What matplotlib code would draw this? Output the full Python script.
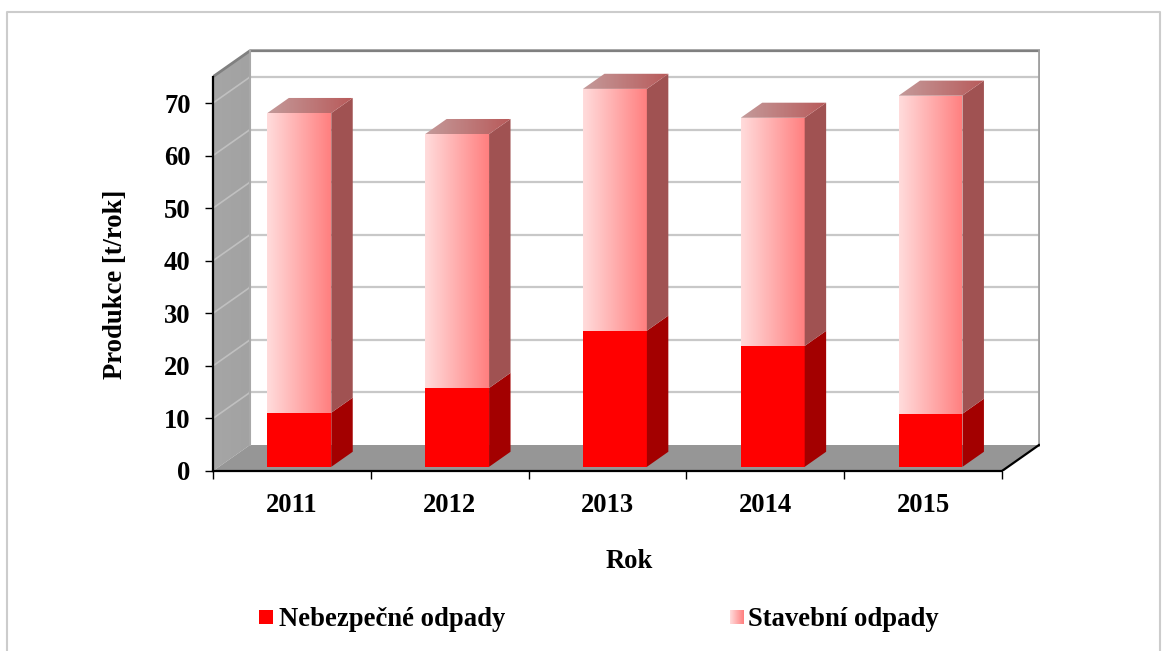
import matplotlib
matplotlib.use('Agg')
import matplotlib.pyplot as plt
import numpy as np
from matplotlib.colors import LinearSegmentedColormap
from matplotlib.patches import Polygon, Rectangle

years = ['2011', '2012', '2013', '2014', '2015']
nebezpecne = [10.3, 15.0, 25.9, 23.0, 10.1]
stavebni = [57.0, 48.3, 46.0, 43.4, 60.5]
yticks = [0, 10, 20, 30, 40, 50, 60, 70]

W, H = 1167, 651
PX_X = 157.8   # px per category
PX_Y = 5.257   # px per t/rok
DX = 37 / PX_X  # full depth of the floor in data units
DY = 26 / PX_Y
YMAX = 75
BAR_W = 0.405
BAR_SHIFT = 1.5 / PX_X
D0, D1 = 0.16, 0.74  # bar depth range

plt.rcParams['font.family'] = ['Liberation Serif', 'DejaVu Serif']
plt.rcParams['font.weight'] = 'bold'
plt.rcParams['font.size'] = 19.2

fig = plt.figure(figsize=(W / 100, H / 100), dpi=100)
# outer frame, open at the bottom
fig.add_artist(plt.Line2D([7 / W, 7 / W, 1160 / W, 1160 / W],
                          [0, 1 - 12 / H, 1 - 12 / H, 0],
                          color='#cccccc', lw=1.5))

ax = fig.add_axes([213 / W, (H - 471) / H, 827 / W, 422 / H])
ax.set_xlim(0, 827 / PX_X)
ax.set_ylim(0, 422 / PX_Y)
ax.patch.set_alpha(0)


def pt(x, y, d):
    # oblique projection: d=0 is the front, d=1 the back wall
    return (x + d * DX, y + d * DY)


def poly(points, color, z, **kw):
    ax.add_patch(Polygon(points, closed=True, facecolor=color, edgecolor='none', zorder=z, **kw))


def grad(points, c0, c1, z):
    # horizontal gradient clipped to a polygon
    cmap = LinearSegmentedColormap.from_list('g', [c0, c1])
    xs = [p[0] for p in points]
    ys = [p[1] for p in points]
    im = ax.imshow(np.linspace(0, 1, 256).reshape(1, -1), cmap=cmap, aspect='auto', zorder=z,
                   extent=(min(xs), max(xs), min(ys), max(ys)), interpolation='bilinear')
    im.set_clip_path(Polygon(points, closed=True, transform=ax.transData))


# walls and floor
grad([pt(0, 0, 0), pt(0, YMAX, 0), pt(0, YMAX, 1), pt(0, 0, 1)], '#a6a6a6', '#a2a2a2', 1)
poly([pt(0, 0, 0), pt(5, 0, 0), pt(5, 0, 1), pt(0, 0, 1)], '#969696', 1)

for v in yticks[1:]:
    ax.plot(*zip(pt(0, v, 1), pt(5, v, 1)), color='#c8c8c8', lw=1.6, zorder=2)
    ax.plot(*zip(pt(0, v, 0), pt(0, v, 1)), color='#c0c0c0', lw=1.2, zorder=2)

ax.plot(*zip(pt(0, YMAX, 0), pt(0, YMAX, 1), pt(5, YMAX, 1)), color='#808080', lw=2, zorder=2)
ax.plot(*zip(pt(5, YMAX, 1), pt(5, 0, 1)), color='#a0a0a0', lw=2, zorder=2)
ax.plot(*zip(pt(0, 0, 1), pt(0, YMAX, 1)), color='#a8a8a8', lw=1.5, zorder=2)
ax.plot(*zip(pt(5, 0, 0), pt(5, 0, 1)), color='black', lw=1.6, zorder=3)

# bars
for i, year in enumerate(years):
    xl = i + 0.5 - BAR_W / 2 + BAR_SHIFT
    xr = i + 0.5 + BAR_W / 2 + BAR_SHIFT
    a = nebezpecne[i]
    b = a + stavebni[i]
    z = 5 + i
    # lower segment
    poly([pt(xl, 0, D0), pt(xr, 0, D0), pt(xr, a, D0), pt(xl, a, D0)], '#ff0000', z)
    poly([pt(xr, 0, D0), pt(xr, 0, D1), pt(xr, a, D1), pt(xr, a, D0)], '#a30000', z)
    # upper segment
    grad([pt(xl, a, D0), pt(xr, a, D0), pt(xr, b, D0), pt(xl, b, D0)], '#ffdcdc', '#ff7f7f', z)
    poly([pt(xr, a, D0), pt(xr, a, D1), pt(xr, b, D1), pt(xr, b, D0)], '#a05252', z)
    grad([pt(xl, b, D0), pt(xr, b, D0), pt(xr, b, D1), pt(xl, b, D1)], '#c49a9a', '#b85a5a', z)

# axes
for s in ['top', 'right']:
    ax.spines[s].set_visible(False)
ax.spines['left'].set_bounds(0, YMAX)
ax.spines['bottom'].set_bounds(0, 5)
ax.spines['left'].set_linewidth(1.6)
ax.spines['bottom'].set_linewidth(1.6)
ax.spines['left'].set_zorder(20)
ax.spines['bottom'].set_zorder(20)
ax.set_yticks(yticks)
ax.set_xticks(range(6))
ax.set_xticklabels([])
ax.set_xticks(np.arange(5) + 0.5, minor=True)
ax.set_xticklabels(years, minor=True)
ax.tick_params(axis='y', length=6, width=1, pad=10)
ax.tick_params(axis='x', which='major', length=5.5, width=1)
ax.tick_params(axis='x', which='minor', length=0, pad=16)

fig.text(115 / W, 1 - 284 / H, 'Produkce [t/rok]', rotation=90, ha='center', va='center')
fig.text(629 / W, 1 - 562 / H, 'Rok', ha='center', va='center')

# legend
fig.add_artist(Rectangle((259 / W, 1 - 624 / H), 14 / W, 14 / H, transform=fig.transFigure,
                         facecolor='#ff0000', edgecolor='none'))
fig.text(279 / W, 1 - 619 / H, 'Nebezpečné odpady', ha='left', va='center')
lax = fig.add_axes([730 / W, 1 - 624 / H, 14 / W, 14 / H])
lax.imshow(np.linspace(0, 1, 64).reshape(1, -1), aspect='auto',
           cmap=LinearSegmentedColormap.from_list('l', ['#ffdcdc', '#ff7f7f']))
lax.axis('off')
fig.text(748 / W, 1 - 619 / H, 'Stavební odpady', ha='left', va='center')

fig.savefig('out.png', dpi=100)
